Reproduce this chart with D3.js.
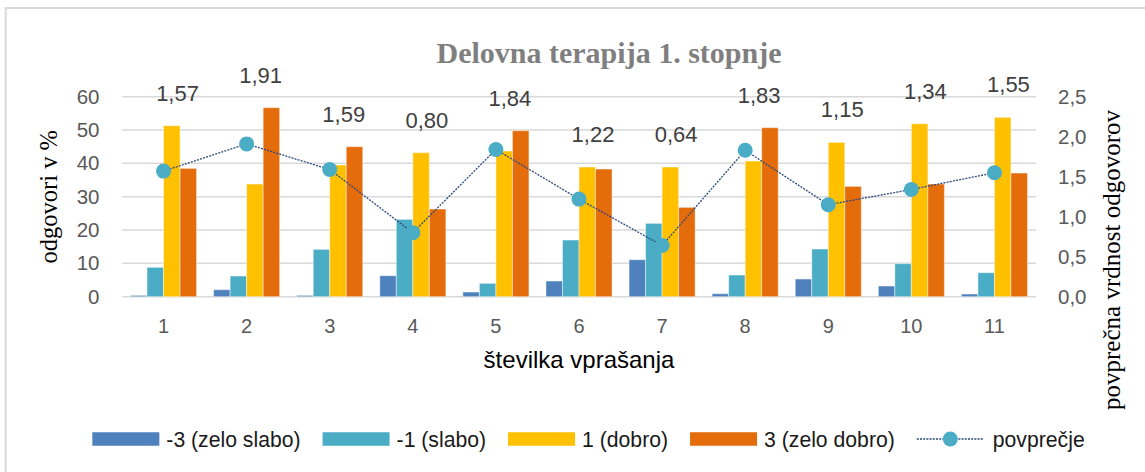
<!DOCTYPE html>
<html>
<head>
<meta charset="utf-8">
<script src="https://cdn.jsdelivr.net/npm/d3@7"></script>
<style>
  html, body { margin: 0; padding: 0; background: #ffffff; }
  svg { display: block; }
</style>
</head>
<body>
<svg id="chart" width="1145" height="472"></svg>
<script>
// ---------- data ----------
const categories = ["1","2","3","4","5","6","7","8","9","10","11"];
const seriesNames = ["-3 (zelo slabo)", "-1 (slabo)", "1 (dobro)", "3 (zelo dobro)"];
const zeloSlabo  = [0.4, 2.1, 0.4, 6.3, 1.4, 4.7, 11.1, 0.9, 5.3, 3.2, 0.8];
const slabo      = [8.8, 6.2, 14.2, 23.2, 4.0, 17.0, 22.0, 6.5, 14.3, 9.9, 7.2];
const dobro      = [51.3, 33.8, 39.5, 43.2, 43.7, 38.9, 38.9, 40.7, 46.3, 51.9, 53.8];
const zeloDobro  = [38.5, 56.7, 45.0, 26.3, 49.8, 38.3, 26.8, 50.7, 33.1, 33.8, 37.1];
const povprecje  = [1.57, 1.91, 1.59, 0.80, 1.84, 1.22, 0.64, 1.83, 1.15, 1.34, 1.55];
const lineName = "povprečje";
const leftTicks  = [0, 10, 20, 30, 40, 50, 60];
const rightTicks = [0, 0.5, 1.0, 1.5, 2.0, 2.5];
const titleText = "Delovna terapija 1. stopnje";
const leftTitle = "odgovori v %";
const rightTitle = "povprečna vrdnost odgovorov";
const xTitle = "številka vprašanja";

// ---------- styles / layout ----------
const colors = ["#4f81bd", "#4bacc6", "#ffc000", "#e46c0a"];
const lineColor = "#2b4a7a";
const markerColor = "#4bacc6";
const gridColor = "#d9d9d9";
const tickColor = "#595959";
const sansFont = "'Liberation Sans', Arial, sans-serif";
const serifFont = "'Liberation Serif', 'Times New Roman', serif";

const plot = { left: 122, right: 1036, top: 96.7, bottom: 296.7 };
const svg = d3.select("#chart");

// chart border (only left/top visible in frame)
svg.append("rect")
  .attr("x", 5.7).attr("y", 8).attr("width", 1200).attr("height", 600)
  .attr("fill", "none").attr("stroke", gridColor).attr("stroke-width", 2);

const series = [zeloSlabo, slabo, dobro, zeloDobro];

const x = d3.scaleBand().domain(categories)
  .range([plot.left, plot.right]).paddingInner(0.205).paddingOuter(0.1025);
const xs = d3.scaleBand().domain(d3.range(series.length))
  .range([0, x.bandwidth()]).padding(0);
const yL = d3.scaleLinear().domain([0, 60]).range([plot.bottom, plot.top]);
const yR = d3.scaleLinear().domain([0, 2.5]).range([plot.bottom, plot.top]);

const comma = (fmt) => (v) => d3.format(fmt)(v).replace(".", ",");

// gridlines
svg.append("g").selectAll("line").data(leftTicks).join("line")
  .attr("x1", plot.left).attr("x2", plot.right)
  .attr("y1", d => yL(d)).attr("y2", d => yL(d))
  .attr("stroke", gridColor).attr("stroke-width", 1.5);

// left axis
const leftAxis = d3.axisLeft(yL).tickValues(leftTicks).tickSize(0).tickPadding(0).tickFormat(d3.format("d"));
const gL = svg.append("g").attr("transform", `translate(${plot.left - 22.5},0)`).call(leftAxis);
gL.select(".domain").remove();
gL.selectAll("text").attr("fill", tickColor).style("font-family", sansFont).style("font-size", "20.5px");

// right axis
const rightAxis = d3.axisRight(yR).tickValues(rightTicks).tickSize(0).tickPadding(0).tickFormat(comma(".1f"));
const gR = svg.append("g").attr("transform", `translate(${plot.right + 22},0)`).call(rightAxis);
gR.select(".domain").remove();
gR.selectAll("text").attr("fill", tickColor).style("font-family", sansFont).style("font-size", "20.5px");

// bottom axis
const bottomAxis = d3.axisBottom(x).tickSize(0).tickPadding(0);
const gB = svg.append("g").attr("transform", `translate(0,${plot.bottom + 22})`).call(bottomAxis);
gB.select(".domain").remove();
gB.selectAll("text").attr("fill", tickColor).style("font-family", sansFont).style("font-size", "20px");

// bars
series.forEach((vals, si) => {
  svg.append("g").selectAll("rect").data(vals).join("rect")
    .attr("x", (d, i) => x(categories[i]) + xs(si))
    .attr("width", xs.bandwidth())
    .attr("y", d => yL(d))
    .attr("height", d => yL(0) - yL(d))
    .attr("fill", colors[si])
    .attr("stroke", "#ffffff").attr("stroke-opacity", 0.45).attr("stroke-width", 1);
});

// mean line
const line = d3.line()
  .x((d, i) => x(categories[i]) + x.bandwidth() / 2)
  .y(d => yR(d));
svg.append("path").datum(povprecje)
  .attr("d", line).attr("fill", "none")
  .attr("stroke", lineColor).attr("stroke-width", 1.3)
  .attr("stroke-dasharray", "2 1.2");
svg.append("g").selectAll("circle").data(povprecje).join("circle")
  .attr("cx", (d, i) => x(categories[i]) + x.bandwidth() / 2)
  .attr("cy", d => yR(d)).attr("r", 7.5)
  .attr("fill", markerColor);

// data labels (placed above the tallest bar of each group)
svg.append("g").selectAll("text").data(povprecje).join("text")
  .attr("x", (d, i) => x(categories[i]) + x.bandwidth() / 2 + 14)
  .attr("y", (d, i) => yL(d3.max(series, s => s[i])) - 25)
  .attr("text-anchor", "middle")
  .attr("fill", "#404040")
  .style("font-family", sansFont).style("font-size", "22px")
  .text(d => comma(".2f")(d));

// title
svg.append("text")
  .attr("x", 609).attr("y", 63)
  .attr("text-anchor", "middle")
  .attr("fill", "#7f7f7f")
  .style("font-family", serifFont).style("font-size", "30px").style("font-weight", "bold")
  .text(titleText);

// axis titles
svg.append("text")
  .attr("transform", `translate(57,${(plot.top + plot.bottom) / 2}) rotate(-90)`)
  .attr("text-anchor", "middle").attr("fill", "#000")
  .style("font-family", serifFont).style("font-size", "24.5px")
  .text(leftTitle);
svg.append("text")
  .attr("transform", `translate(1120,260) rotate(-90)`)
  .attr("text-anchor", "middle").attr("fill", "#000")
  .style("font-family", serifFont).style("font-size", "25px")
  .text(rightTitle);
svg.append("text")
  .attr("x", (plot.left + plot.right) / 2).attr("y", 368)
  .attr("text-anchor", "middle").attr("fill", "#000")
  .style("font-family", sansFont).style("font-size", "24px")
  .text(xTitle);

// legend
const legendItems = seriesNames.map((n, i) => ({ name: n, type: "bar", color: colors[i] }))
  .concat([{ name: lineName, type: "line" }]);
const lg = svg.append("g");
const swW = 67, swH = 13.5, gapTxt = 7, gapItem = 22, legY = 439;
let cx = 0;
legendItems.forEach(item => {
  const g = lg.append("g").attr("transform", `translate(${cx},0)`);
  if (item.type === "bar") {
    g.append("rect").attr("x", 0).attr("y", legY - swH / 2).attr("width", swW).attr("height", swH).attr("fill", item.color);
  } else {
    g.append("line").attr("x1", 0).attr("x2", swW).attr("y1", legY).attr("y2", legY)
      .attr("stroke", lineColor).attr("stroke-width", 1.3).attr("stroke-dasharray", "2 1.2");
    g.append("circle").attr("cx", swW / 2).attr("cy", legY).attr("r", 7.5).attr("fill", markerColor);
  }
  const t = g.append("text").attr("x", swW + (item.type === "bar" ? gapTxt : 9)).attr("y", legY + 7.5)
    .attr("fill", "#1a1a1a")
    .style("font-family", sansFont).style("font-size", "21.2px")
    .text(item.name);
  const w = t.node().getComputedTextLength();
  cx += swW + (item.type === "bar" ? gapTxt : 9) + w + gapItem;
});
const totalW = cx - gapItem;
lg.attr("transform", `translate(${588.5 - totalW / 2},0)`);
</script>
</body>
</html>
